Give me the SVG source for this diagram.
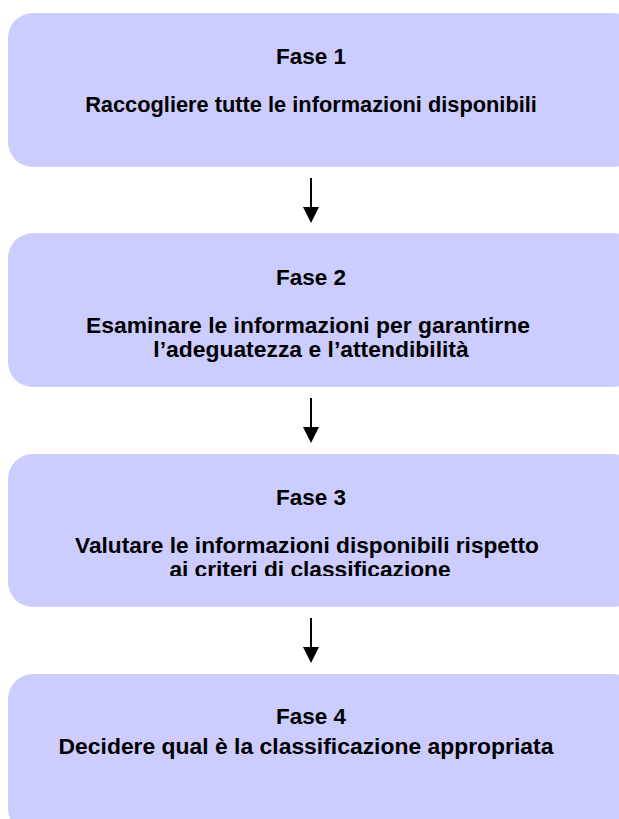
<svg xmlns="http://www.w3.org/2000/svg" width="619" height="819" viewBox="0 0 619 819">
<defs>
<style>
.box{fill:#CCCCFF;stroke:none}
.t{font-family:"Liberation Sans",Arial,sans-serif;font-weight:bold;font-size:22.5px;fill:#000;text-anchor:middle}
.ln{stroke:#000;stroke-width:2;fill:none}
.hd{fill:#000}
</style>
<clipPath id="clip3"><rect x="0" y="454" width="619" height="122"/></clipPath>
</defs>
<rect width="619" height="819" fill="#fff"/>
<g id="fase1">
<rect class="box" x="8" y="13" width="630" height="154" rx="25" ry="25"/>
<text class="t" x="311" y="64">Fase 1</text>
<text class="t" x="311" y="112" style="font-size:21.8px">Raccogliere tutte le informazioni disponibili</text>
</g>
<g id="fase2">
<rect class="box" x="8" y="233" width="630" height="154" rx="25" ry="25"/>
<text class="t" x="311" y="285">Fase 2</text>
<text class="t" x="308" y="333" style="font-size:22.9px">Esaminare le informazioni per garantirne</text>
<text class="t" x="311" y="357" style="font-size:22.9px">l’adeguatezza e l’attendibilità</text>
</g>
<g id="fase3">
<rect class="box" x="8" y="454" width="630" height="153" rx="25" ry="25"/>
<text class="t" x="307" y="553" style="font-size:22.7px">Valutare le informazioni disponibili rispetto</text>
<text class="t" x="311" y="505">Fase 3</text>
<text class="t" x="310" y="577" style="font-size:22.7px" clip-path="url(#clip3)">ai criteri di classificazione</text>
</g>
<g id="fase4">
<rect class="box" x="8" y="674" width="630" height="160" rx="25" ry="25"/>
<text class="t" x="311" y="724">Fase 4</text>
<text class="t" x="306" y="754" style="font-size:22.9px">Decidere qual è la classificazione appropriata</text>
</g>
<g id="connectors">
<line class="ln" x1="311" y1="178" x2="311" y2="208"/>
<polygon class="hd" points="303,207 319,207 311,223"/>
<line class="ln" x1="311" y1="398" x2="311" y2="428"/>
<polygon class="hd" points="303,427 319,427 311,443"/>
<line class="ln" x1="311" y1="618" x2="311" y2="648"/>
<polygon class="hd" points="303,647 319,647 311,663"/>
</g>
</svg>
